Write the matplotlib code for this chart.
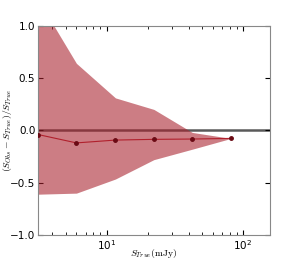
import matplotlib
matplotlib.use("Agg")
import matplotlib.pyplot as plt
import numpy as np

plt.rcParams['mathtext.fontset'] = 'cm'

# flux bins (mJy) and fractional flux offsets
s_true = [3.14, 6.0, 11.6, 22.2, 42.5, 81.8]
frac_mean = [-0.04, -0.12, -0.093, -0.086, -0.083, -0.077]
frac_upper = [1.25, 0.64, 0.31, 0.20, -0.02, -0.077]
frac_lower = [-0.61, -0.60, -0.465, -0.28, -0.18, -0.077]

fig = plt.figure(figsize=(3.0, 2.62), dpi=100)
ax = fig.add_axes([0.127, 0.103, 0.773, 0.799])

ax.axhline(0, color='#5a5a5a', lw=1.8, zorder=1)
ax.fill_between(s_true, frac_lower, frac_upper, color='#a8202c', alpha=0.58, lw=0, zorder=2)
ax.plot(s_true, frac_mean, '-', color='#b0202c', lw=0.8, zorder=3)
ax.plot(s_true, frac_mean, 'o', color='#6a0a14', ms=2.5, zorder=4)

ax.set_xscale('log')
ax.set_xlim(3.14, 158)
ax.set_ylim(-1.0, 1.0)
ax.set_yticks([-1.0, -0.5, 0.0, 0.5, 1.0])
ax.tick_params(which='both', direction='in', top=True, right=True, labelsize=7.5)
ax.tick_params(which='major', length=3.5, pad=2)
ax.tick_params(which='minor', length=2)
for sp in ax.spines.values():
    sp.set_color('#888888')

ax.set_xlabel(r'$S_{True}(\mathrm{mJy})$', fontsize=7)
ax.set_ylabel(r'$(S_{Obs}-S_{True})/S_{True}$', fontsize=7)
ax.xaxis.set_label_coords(0.5, -0.055)
ax.yaxis.set_label_coords(-0.105, 0.5)

fig.savefig('out.png', dpi=100)
